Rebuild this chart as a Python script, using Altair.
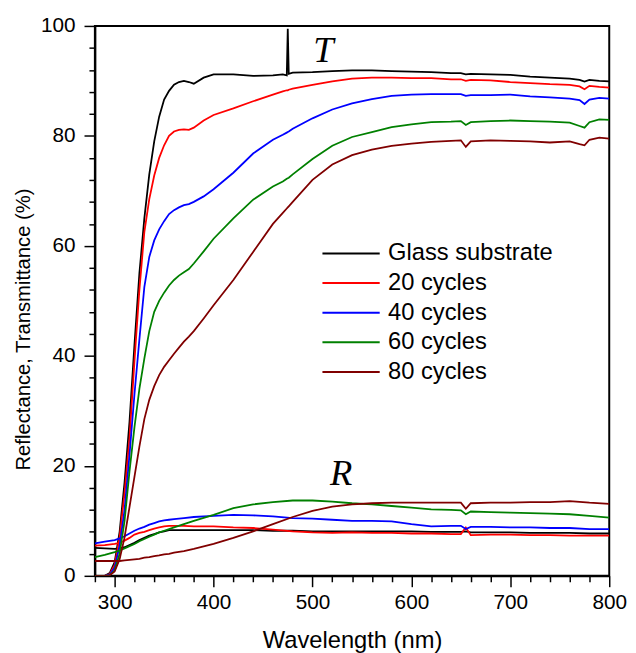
import altair as alt
import pandas as pd

series_names = ["Glass substrate", "20 cycles", "40 cycles", "60 cycles", "80 cycles"]
series_colors = ["#000000", "#ff0000", "#0000ff", "#008000", "#800000"]

# Transmittance curves
wl_T = [280, 290, 295, 300, 305, 310, 315, 320, 325, 330, 335, 340, 345, 350, 355, 360,
        365, 370, 375, 380, 390, 400, 420, 440, 460, 470, 474, 475, 476, 480, 500, 520,
        540, 560, 580, 600, 620, 640, 650, 655, 660, 680, 700, 720, 740, 760, 770, 775,
        780, 790, 800]
T_glass = [0, 0, 0.5, 2.5, 8, 17, 28, 42, 55, 65, 73, 79, 83.5, 86.6, 88.2, 89.3,
           89.8, 90.0, 89.8, 89.5, 90.6, 91.2, 91.2, 90.9, 91.0, 91.2, 91.0, 99.5, 91.3, 91.5, 91.6, 91.8,
           91.9, 91.9, 91.8, 91.7, 91.6, 91.4, 91.4, 91.2, 91.3, 91.2, 91.1, 90.8, 90.6, 90.4, 90.2, 89.9,
           90.2, 90.0, 89.9]
T_20 = [0, 0, 0.3, 2, 7, 15, 25, 39, 52, 62.5, 68.5, 72.8, 76, 78.3, 80, 80.8,
        81.1, 81.2, 81.1, 81.5, 82.8, 83.8, 85.0, 86.3, 87.5, 88.1, 88.3, 88.3, 88.4, 88.6, 89.3, 89.9,
        90.4, 90.6, 90.6, 90.5, 90.5, 90.3, 90.3, 90.0, 90.2, 90.1, 89.8, 89.6, 89.4, 89.3, 89.0, 88.5,
        89.1, 88.9, 88.8]
T_40 = [0, 0, 0.2, 1.5, 5.5, 12, 22, 33, 43, 52.5, 58, 61, 63, 64.5, 65.8, 66.5,
        67, 67.4, 67.6, 68.0, 69.0, 70.3, 73.3, 76.8, 79.3, 80.2, 80.6, 80.7, 80.8, 81.3, 83.2, 84.8,
        85.9, 86.7, 87.3, 87.5, 87.6, 87.6, 87.6, 87.3, 87.4, 87.4, 87.5, 87.2, 87.0, 86.8, 86.5, 85.8,
        86.6, 86.9, 86.8]
T_60 = [0, 0, 0.1, 1, 4, 10, 19, 27, 34, 39.5, 44.5, 48, 50, 51.5, 52.8, 53.8,
        54.6, 55.2, 55.8, 56.8, 59.0, 61.3, 65.0, 68.4, 70.8, 71.7, 72.2, 72.3, 72.4, 73.0, 75.8, 78.2,
        79.8, 80.7, 81.6, 82.1, 82.5, 82.6, 82.7, 82.0, 82.5, 82.7, 82.8, 82.7, 82.6, 82.4, 81.8, 81.5,
        82.5, 83.0, 82.9]
T_80 = [0, 0, 0.1, 0.8, 3, 7, 12.5, 18, 23.5, 28.5, 32, 34.5, 36.5, 38, 39.2, 40.4,
        41.5, 42.6, 43.5, 44.5, 46.8, 49.2, 53.8, 58.9, 64.0, 66.0, 66.8, 67.0, 67.2, 68.0, 72.0, 74.8,
        76.5, 77.5, 78.2, 78.6, 78.9, 79.1, 79.2, 78.0, 79.0, 79.2, 79.1, 79.0, 78.8, 79.0, 78.5, 78.3,
        79.3, 79.7, 79.5]

# Reflectance curves
wl_R = [280, 290, 300, 305, 310, 315, 320, 325, 330, 335, 340, 345, 350, 355, 360, 370,
        380, 400, 420, 440, 460, 480, 500, 520, 540, 560, 580, 600, 620, 640, 650, 655,
        660, 680, 700, 720, 740, 760, 780, 800]
R_glass = [5.1, 5.0, 4.9, 5.0, 5.2, 5.6, 6.0, 6.5, 6.9, 7.3, 7.6, 7.9, 8.1, 8.3, 8.3, 8.3,
           8.3, 8.3, 8.3, 8.3, 8.2, 8.2, 8.1, 8.1, 8.1, 8.1, 8.1, 8.1, 8.0, 8.0, 8.0, 8.1,
           7.9, 7.9, 7.9, 7.8, 7.8, 7.8, 7.7, 7.7]
R_20 = [5.5, 5.6, 5.8, 6.0, 6.4, 6.9, 7.5, 7.8, 8.0, 8.3, 8.6, 8.8, 9.0, 9.1, 9.1, 9.1,
        9.0, 9.0, 8.8, 8.7, 8.4, 8.1, 7.9, 7.8, 7.9, 7.8, 7.8, 7.7, 7.7, 7.6, 7.6, 8.8,
        7.4, 7.5, 7.5, 7.4, 7.4, 7.3, 7.3, 7.3]
R_40 = [5.9, 6.2, 6.5, 6.8, 7.2, 7.7, 8.2, 8.6, 8.9, 9.3, 9.6, 9.9, 10.1, 10.2, 10.3, 10.5,
        10.7, 10.9, 11.1, 11.0, 10.8, 10.5, 10.4, 10.2, 10.0, 10.0, 9.9, 9.4, 9.0, 9.1, 9.1, 8.5,
        8.9, 8.9, 8.8, 8.8, 8.7, 8.7, 8.5, 8.5]
R_60 = [3.4, 3.8, 4.3, 4.6, 5.0, 5.4, 5.8, 6.3, 6.7, 7.1, 7.5, 7.9, 8.2, 8.5, 8.8, 9.4,
        10.0, 11.1, 12.3, 13.0, 13.4, 13.7, 13.7, 13.5, 13.2, 13.0, 12.7, 12.4, 12.1, 12.0, 11.9, 11.2,
        11.7, 11.6, 11.5, 11.4, 11.3, 11.2, 10.9, 10.6]
R_80 = [2.7, 2.7, 2.7, 2.7, 2.8, 2.9, 3.0, 3.1, 3.3, 3.4, 3.6, 3.7, 3.9, 4.0, 4.2, 4.5,
        4.9, 5.8, 6.9, 8.1, 9.4, 10.7, 11.8, 12.6, 13.0, 13.2, 13.3, 13.3, 13.3, 13.3, 13.3, 12.2,
        13.2, 13.3, 13.3, 13.4, 13.4, 13.6, 13.3, 13.1]

T_lists = [T_glass, T_20, T_40, T_60, T_80]
R_lists = [R_glass, R_20, R_40, R_60, R_80]

# Annotations
note_text = ["T", "R"]
note_wl = [511, 529]
note_val = [93.4, 16.5]

x_ticks = list(range(280, 801, 20))
y_ticks = list(range(0, 101, 4))

rows = []
for name, T, R in zip(series_names, T_lists, R_lists):
    for w, v in zip(wl_T, T):
        rows.append({"series": name, "kind": "T", "wl": w, "val": v})
    for w, v in zip(wl_R, R):
        rows.append({"series": name, "kind": "R", "wl": w, "val": v})
df = pd.DataFrame(rows)
notes = pd.DataFrame({"text": note_text, "wl": note_wl, "val": note_val})

xscale = alt.Scale(domain=[280, 800], nice=False, zero=False)
yscale = alt.Scale(domain=[0, 100], nice=False)

x_axis = alt.Axis(title="Wavelength (nm)", values=x_ticks,
                  labelExpr="datum.value % 100 === 0 ? datum.label : ''",
                  labelOverlap=False, labelFlush=False, labelPadding=5,
                  tickSize={"condition": {"test": "datum.value % 100 === 0", "value": 11}, "value": 6},
                  titleFontSize=24, titlePadding=17)
y_axis = alt.Axis(title="Reflectance, Transmittance (%)", values=y_ticks,
                  labelExpr="datum.value % 20 === 0 ? datum.label : ''",
                  labelOverlap=False, labelFlush=False, labelPadding=9,
                  tickSize={"condition": {"test": "datum.value % 20 === 0", "value": 11}, "value": 6},
                  titleFontSize=20.5, titlePadding=7, titleY=307)

lines = alt.Chart(df).mark_line(strokeWidth=1.8, clip=True).encode(
    x=alt.X("wl:Q", scale=xscale, axis=x_axis),
    y=alt.Y("val:Q", scale=yscale, axis=y_axis),
    color=alt.Color("series:N",
                    scale=alt.Scale(domain=series_names, range=series_colors),
                    legend=alt.Legend(title=None, orient="none", legendX=244, legendY=215,
                                      symbolType="M-2,0H2", symbolSize=841, symbolStrokeWidth=2,
                                      labelFont="Liberation Sans", labelFontSize=24, labelColor="black",
                                      labelLimit=400, labelOffset=22, rowPadding=2, padding=0)),
    detail="kind:N",
)

texts = alt.Chart(notes).mark_text(font="Liberation Serif", fontStyle="italic", fontSize=37,
                                   align="center", baseline="alphabetic", color="black").encode(
    x=alt.X("wl:Q", scale=xscale, axis=x_axis),
    y=alt.Y("val:Q", scale=yscale, axis=y_axis),
    text="text:N",
)

chart = alt.layer(lines, texts).properties(
    width=521, height=557,
    padding={"left": 88, "top": 14, "right": 19, "bottom": 74},
    autosize=alt.AutoSizeParams(type="none"),
).configure_view(stroke="black", strokeWidth=2).configure_axis(
    grid=False, domainColor="black", domainWidth=2, tickColor="black", tickWidth=1.5,
    labelFont="Liberation Sans", labelFontSize=21, labelColor="black",
    titleFont="Liberation Sans", titleFontWeight="normal", titleColor="black",
)

chart.save("out.html", embed_options={"renderer": "svg", "actions": False})
